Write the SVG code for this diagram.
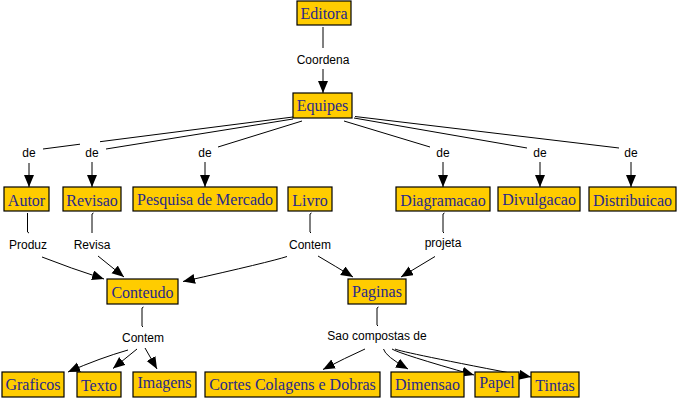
<svg xmlns="http://www.w3.org/2000/svg" width="677" height="400" viewBox="0 0 677 400">
<style>
.n rect{fill:#FFCC00;stroke:#000;stroke-width:1.2}
.n text{font-family:"Liberation Serif","Times New Roman",serif;font-size:16px;fill:#28288a;text-anchor:middle}
.lbl{font-family:"Liberation Sans",Arial,sans-serif;font-size:12px;fill:#000;text-anchor:middle}
#connectors path{fill:none;stroke:#000;stroke-width:1}
#connectors path.a{marker-end:url(#ah)}
</style>
<defs>
<marker id="ah" markerUnits="userSpaceOnUse" markerWidth="13" markerHeight="11" refX="12" refY="5" orient="auto">
<path d="M0,0 L12,5 L0,10 z" fill="#000"/>
</marker>
</defs>
<rect width="677" height="400" fill="#fff"/>
<g id="connectors">
<path d="M323,27 L323,48"/>
<path class="a" d="M323,69 L323,93"/>
<path d="M293,117 L100,141.7 M80,144.2 L43,149"/>
<path d="M293,119 L106,149"/>
<path d="M302,121 L218,147"/>
<path d="M344,121 L430,147"/>
<path d="M354,118 L527,148"/>
<path d="M355,116.5 L619,148"/>
<path class="a" d="M29,163 L29,187"/>
<path class="a" d="M92,162 L92,187"/>
<path class="a" d="M205,162 L205,187"/>
<path class="a" d="M443,162 L443,187"/>
<path class="a" d="M540,162 L540,187"/>
<path class="a" d="M631,162 L631,187"/>
<path d="M27.5,213 L27.5,232 L29,233"/>
<path d="M93.5,213 L92,214 L92,233"/>
<path d="M311.5,213 L310,214 L310,232 L311,233"/>
<path d="M444.5,213 L443,214 L443,232 L444,233"/>
<path class="a" d="M42,257 Q70,268 104,279"/>
<path class="a" d="M98,256 L124,277"/>
<path class="a" d="M287,256.5 Q270,262 183,281.5"/>
<path class="a" d="M318,256 Q335,266 353,277"/>
<path class="a" d="M435,256.5 L401,277"/>
<path d="M143.5,307 L142,308 L142,326 L143,327"/>
<path d="M378.5,307 L377,308 L377,325 L378,326"/>
<path class="a" d="M128,350 Q100,358 68,372"/>
<path class="a" d="M137,349 L113,368.5"/>
<path class="a" d="M145,348 L157,369"/>
<path class="a" d="M365,349 Q345,358 323,369.5"/>
<path class="a" d="M383.5,349 Q385,356 408,369"/>
<path class="a" d="M392,349 Q400,354 474,375"/>
<path class="a" d="M395,349 Q400,352 531,377"/>
</g>
<g id="lbl-coordena"><text class="lbl" x="323" y="64">Coordena</text></g>
<g id="lbl-de1"><text class="lbl" x="29" y="157">de</text></g>
<g id="lbl-de2"><text class="lbl" x="92" y="157">de</text></g>
<g id="lbl-de3"><text class="lbl" x="205" y="157">de</text></g>
<g id="lbl-de4"><text class="lbl" x="443" y="157">de</text></g>
<g id="lbl-de5"><text class="lbl" x="540" y="157">de</text></g>
<g id="lbl-de6"><text class="lbl" x="631" y="157">de</text></g>
<g id="lbl-produz"><text class="lbl" x="28" y="249">Produz</text></g>
<g id="lbl-revisa"><text class="lbl" x="92" y="249">Revisa</text></g>
<g id="lbl-contem1"><text class="lbl" x="310" y="249">Contem</text></g>
<g id="lbl-projeta"><text class="lbl" x="443" y="247">projeta</text></g>
<g id="lbl-contem2"><text class="lbl" x="143" y="342">Contem</text></g>
<g id="lbl-sao"><text class="lbl" x="377" y="340">Sao compostas de</text></g>
<g id="editora" class="n"><rect x="297" y="1" width="54" height="24"/><text x="324" y="19">Editora</text></g>
<g id="equipes" class="n"><rect x="293" y="93" width="59" height="25"/><text x="322.5" y="111">Equipes</text></g>
<g id="autor" class="n"><rect x="4" y="187" width="45" height="24"/><text x="26.5" y="206">Autor</text></g>
<g id="revisao" class="n"><rect x="63" y="187" width="58" height="24"/><text x="92" y="206">Revisao</text></g>
<g id="pesquisa" class="n"><rect x="133" y="187" width="144" height="24"/><text x="205" y="205">Pesquisa de Mercado</text></g>
<g id="livro" class="n"><rect x="288" y="187" width="44" height="24"/><text x="310" y="206">Livro</text></g>
<g id="diagramacao" class="n"><rect x="396" y="187" width="94" height="24"/><text x="443" y="206">Diagramacao</text></g>
<g id="divulgacao" class="n"><rect x="498" y="187" width="82" height="24"/><text x="539" y="205">Divulgacao</text></g>
<g id="distribuicao" class="n"><rect x="589" y="187" width="87" height="24"/><text x="632.5" y="206">Distribuicao</text></g>
<g id="conteudo" class="n"><rect x="107" y="279" width="71" height="25"/><text x="142.5" y="298">Conteudo</text></g>
<g id="paginas" class="n"><rect x="348" y="279" width="58" height="25"/><text x="377" y="297">Paginas</text></g>
<g id="graficos" class="n"><rect x="2" y="372" width="62" height="25"/><text x="33" y="390">Graficos</text></g>
<g id="texto" class="n"><rect x="77" y="372" width="44" height="25"/><text x="99" y="391">Texto</text></g>
<g id="imagens" class="n"><rect x="133" y="372" width="63" height="25"/><text x="164.5" y="388">Imagens</text></g>
<g id="cortes" class="n"><rect x="205" y="372" width="175" height="25"/><text x="292.5" y="390">Cortes Colagens e Dobras</text></g>
<g id="dimensao" class="n"><rect x="391" y="372" width="73" height="25"/><text x="427.5" y="390">Dimensao</text></g>
<g id="papel" class="n"><rect x="475" y="372" width="44" height="25"/><text x="497" y="388">Papel</text></g>
<g id="tintas" class="n"><rect x="531" y="372" width="48" height="25"/><text x="555" y="391">Tintas</text></g>
</svg>
